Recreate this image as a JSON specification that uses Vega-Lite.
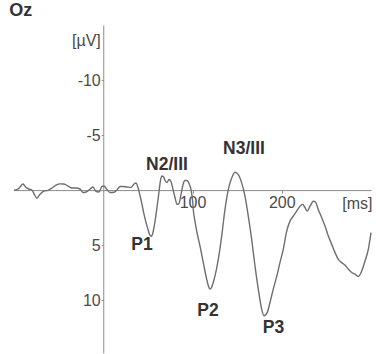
{
  "$schema": "https://vega.github.io/schema/vega-lite/v6.json",
  "width": 357,
  "height": 328,
  "autosize": "none",
  "padding": {"left": 14, "top": 25, "right": 5, "bottom": 1},
  "background": "white",
  "title": {
    "text": "Oz",
    "anchor": "start",
    "font": "Liberation Sans",
    "fontSize": 18,
    "fontWeight": "bold",
    "color": "#333333",
    "offset": 5,
    "dx": -2
  },
  "config": {
    "view": {"stroke": null},
    "axis": {
      "grid": false,
      "labelFont": "Liberation Sans",
      "labelFontSize": 16,
      "labelColor": "#4a4a4a",
      "titleFont": "Liberation Sans",
      "titleFontSize": 16,
      "titleFontWeight": "normal",
      "titleColor": "#4a4a4a",
      "domainColor": "#8c8c8c",
      "tickColor": "#8c8c8c"
    }
  },
  "layer": [
    {
      "data": {
        "values": [
          {"t": -100.0, "v": 0.01}, {"t": -96.6, "v": -0.03}, {"t": -93.2, "v": -0.28},
          {"t": -89.9, "v": -0.55}, {"t": -86.6, "v": -0.24}, {"t": -83.3, "v": -0.10},
          {"t": -80.0, "v": -0.01}, {"t": -76.6, "v": 0.49}, {"t": -74.4, "v": 0.74},
          {"t": -71.1, "v": 0.40}, {"t": -66.4, "v": 0.08}, {"t": -61.9, "v": 0.02},
          {"t": -57.4, "v": -0.19}, {"t": -52.9, "v": -0.46}, {"t": -48.5, "v": -0.57},
          {"t": -44.0, "v": -0.55}, {"t": -39.5, "v": -0.37}, {"t": -35.0, "v": -0.19},
          {"t": -30.5, "v": -0.19}, {"t": -26.1, "v": -0.10}, {"t": -22.7, "v": 0.22},
          {"t": -19.3, "v": 0.17}, {"t": -16.0, "v": -0.01}, {"t": -11.5, "v": -0.28},
          {"t": -8.1, "v": 0.13}, {"t": -4.8, "v": 0.17}, {"t": -1.4, "v": -0.33},
          {"t": 0.8, "v": -0.37}, {"t": 4.2, "v": -0.05}, {"t": 7.6, "v": 0.22},
          {"t": 11.0, "v": 0.22}, {"t": 15.4, "v": -0.01}, {"t": 18.8, "v": -0.33},
          {"t": 22.1, "v": -0.33}, {"t": 26.6, "v": -0.28}, {"t": 31.1, "v": -0.24},
          {"t": 34.5, "v": -0.55}, {"t": 36.7, "v": -0.64}, {"t": 38.9, "v": -0.24},
          {"t": 41.2, "v": 0.49}, {"t": 43.4, "v": 1.30}, {"t": 45.7, "v": 2.21},
          {"t": 47.9, "v": 2.93}, {"t": 50.1, "v": 3.57}, {"t": 52.4, "v": 4.11},
          {"t": 54.1, "v": 4.20}, {"t": 55.7, "v": 3.84}, {"t": 58.0, "v": 2.84},
          {"t": 60.2, "v": 1.58}, {"t": 62.5, "v": 0.13}, {"t": 64.1, "v": -0.87},
          {"t": 65.8, "v": -1.28}, {"t": 67.5, "v": -1.23}, {"t": 69.2, "v": -0.87},
          {"t": 71.4, "v": -0.69}, {"t": 73.7, "v": -0.96}, {"t": 75.9, "v": -0.78},
          {"t": 78.2, "v": -0.05}, {"t": 80.4, "v": 0.67}, {"t": 82.6, "v": 1.30},
          {"t": 84.9, "v": 1.21}, {"t": 87.1, "v": 0.40}, {"t": 89.4, "v": -0.51},
          {"t": 91.6, "v": -0.87}, {"t": 93.8, "v": -0.87}, {"t": 96.1, "v": -0.60},
          {"t": 98.3, "v": -0.05}, {"t": 100.0, "v": 0.85}, {"t": 101.1, "v": 1.94},
          {"t": 102.8, "v": 2.84}, {"t": 105.0, "v": 3.84}, {"t": 108.4, "v": 5.08},
          {"t": 112.1, "v": 6.59}, {"t": 115.9, "v": 8.10}, {"t": 117.9, "v": 8.73},
          {"t": 119.6, "v": 9.00}, {"t": 121.5, "v": 8.82}, {"t": 123.3, "v": 8.37},
          {"t": 125.2, "v": 7.80}, {"t": 128.9, "v": 6.29}, {"t": 132.7, "v": 4.18},
          {"t": 136.4, "v": 1.75}, {"t": 140.1, "v": -0.05}, {"t": 143.9, "v": -1.11},
          {"t": 147.6, "v": -1.62}, {"t": 151.3, "v": -1.41}, {"t": 155.1, "v": -0.66},
          {"t": 158.8, "v": 0.55}, {"t": 162.5, "v": 2.36}, {"t": 166.3, "v": 4.47},
          {"t": 170.0, "v": 6.89}, {"t": 173.7, "v": 9.00}, {"t": 177.5, "v": 10.82},
          {"t": 180.1, "v": 11.42}, {"t": 183.8, "v": 11.11}, {"t": 186.8, "v": 10.21},
          {"t": 190.5, "v": 9.00}, {"t": 195.0, "v": 7.64}, {"t": 198.0, "v": 6.59},
          {"t": 201.7, "v": 5.38}, {"t": 205.5, "v": 3.75}, {"t": 209.2, "v": 2.82},
          {"t": 212.9, "v": 2.36}, {"t": 216.7, "v": 1.91}, {"t": 220.4, "v": 1.46},
          {"t": 223.5, "v": 1.30}, {"t": 226.1, "v": 1.60}, {"t": 228.6, "v": 1.91},
          {"t": 231.7, "v": 1.46}, {"t": 235.4, "v": 1.01}, {"t": 238.0, "v": 1.10},
          {"t": 240.9, "v": 1.76}, {"t": 244.8, "v": 2.51}, {"t": 248.5, "v": 3.27},
          {"t": 252.2, "v": 4.18}, {"t": 256.0, "v": 4.93}, {"t": 259.7, "v": 5.68},
          {"t": 263.4, "v": 6.29}, {"t": 267.2, "v": 6.59}, {"t": 270.9, "v": 6.83},
          {"t": 274.6, "v": 7.19}, {"t": 278.4, "v": 7.49}, {"t": 282.1, "v": 7.64},
          {"t": 285.8, "v": 7.85}, {"t": 289.6, "v": 7.35}, {"t": 293.3, "v": 6.44},
          {"t": 297.0, "v": 5.38}, {"t": 300.0, "v": 3.87}
        ]
      },
      "mark": {"type": "line", "color": "#6e6e6e", "strokeWidth": 1.4, "interpolate": "monotone"},
      "encoding": {
        "x": {
          "field": "t",
          "type": "quantitative",
          "scale": {"domain": [-100, 300], "nice": false, "zero": false},
          "axis": {
            "orient": "bottom",
            "offset": -162.9,
            "values": [100, 200],
            "tickSize": 3,
            "labelPadding": 1,
            "labelExpr": "'' + datum.value",
            "title": "[ms]",
            "titleX": 358,
            "titleY": 13,
            "titleAlign": "right",
            "titleBaseline": "middle",
            "titleAnchor": null
          }
        },
        "y": {
          "field": "v",
          "type": "quantitative",
          "scale": {"domain": [-15, 14.8], "reverse": true, "nice": false, "zero": false},
          "axis": {
            "orient": "left",
            "offset": -89.25,
            "values": [-10, -5, 5, 10],
            "tickSize": 2,
            "labelPadding": 1,
            "labelExpr": "'' + datum.value",
            "title": "[µV]",
            "titleAngle": 0,
            "titleX": -3,
            "titleY": 15,
            "titleAlign": "right",
            "titleBaseline": "middle",
            "titleAnchor": null
          }
        }
      }
    },
    {
      "data": {
        "values": [
          {"label": "P1", "t": 43.4, "v": 5.0},
          {"label": "N2/III", "t": 71.4, "v": -2.3},
          {"label": "P2", "t": 117.4, "v": 10.95},
          {"label": "N3/III", "t": 157.7, "v": -3.7},
          {"label": "P3", "t": 190.8, "v": 12.5}
        ]
      },
      "mark": {
        "type": "text",
        "font": "Liberation Sans",
        "fontSize": 17.5,
        "fontWeight": "bold",
        "color": "#333333",
        "align": "center",
        "baseline": "middle"
      },
      "encoding": {
        "x": {"field": "t", "type": "quantitative"},
        "y": {"field": "v", "type": "quantitative"},
        "text": {"field": "label"}
      }
    }
  ]
}
